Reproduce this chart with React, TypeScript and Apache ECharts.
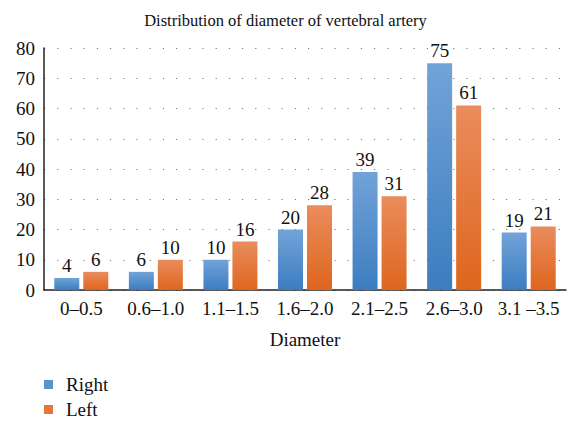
import React, { useEffect, useRef } from "react";
import * as echarts from "echarts";

const categories = ["0–0.5", "0.6–1.0", "1.1–1.5", "1.6–2.0", "2.1–2.5", "2.6–3.0", "3.1 –3.5"];
const rightValues = [4, 6, 10, 20, 39, 75, 19];
const leftValues = [6, 10, 16, 28, 31, 61, 21];
const yTicks = { min: 0, max: 80, interval: 10 };

const FONT = "'Liberation Serif', 'DejaVu Serif', serif";

export default function App() {
  const ref = useRef<HTMLDivElement>(null);
  useEffect(() => {
    if (!ref.current) return;
    const chart = echarts.init(ref.current, null, { renderer: "svg" });
    const blue = new echarts.graphic.LinearGradient(0, 0, 0, 1, [
      { offset: 0, color: "#72a3d8" },
      { offset: 1, color: "#3c7dc0" },
    ]);
    const orange = new echarts.graphic.LinearGradient(0, 0, 0, 1, [
      { offset: 0, color: "#ea8c5c" },
      { offset: 1, color: "#de661e" },
    ]);
    const legendText = { fontFamily: FONT, fontSize: 19, color: "#111", padding: [0, 0, 0, 8] };
    chart.setOption({
      animation: false,
      textStyle: { fontFamily: FONT },
      title: {
        text: "Distribution of diameter of vertebral artery",
        left: "center",
        top: 7,
        textStyle: { fontFamily: FONT, fontSize: 16.5, fontWeight: "normal", color: "#111" },
      },
      legend: [
        {
          left: 44,
          top: 375,
          padding: 0,
          itemWidth: 9,
          itemHeight: 9,
          textStyle: legendText,
          data: [{ name: "Right", icon: "rect", itemStyle: { color: "#5b93cf" } }],
        },
        {
          left: 44,
          top: 400,
          padding: 0,
          itemWidth: 9,
          itemHeight: 9,
          textStyle: legendText,
          data: [{ name: "Left", icon: "rect", itemStyle: { color: "#e5773a" } }],
        },
      ],
      grid: { left: 44, right: 5, top: 48, bottom: 131, containLabel: false },
      xAxis: {
        type: "category",
        data: categories,
        name: "Diameter",
        nameLocation: "middle",
        nameGap: 40,
        nameTextStyle: { fontFamily: FONT, fontSize: 19, color: "#111" },
        axisLine: { show: true, lineStyle: { color: "#222", width: 1.5 } },
        axisTick: { show: false },
        axisLabel: { fontFamily: FONT, fontSize: 19, color: "#111", margin: 9, interval: 0 },
      },
      yAxis: {
        type: "value",
        min: yTicks.min,
        max: yTicks.max,
        interval: yTicks.interval,
        axisLine: { show: true, lineStyle: { color: "#222", width: 1.5 } },
        axisTick: { show: false },
        axisLabel: { fontFamily: FONT, fontSize: 19, color: "#111", margin: 9 },
        splitLine: { show: true, lineStyle: { color: "#777", width: 1.2, type: [1.2, 12] } },
      },
      series: [
        {
          name: "Right",
          type: "bar",
          data: rightValues,
          barWidth: 25,
          barGap: "16%",
          itemStyle: { color: blue },
          label: { show: true, position: "top", fontFamily: FONT, fontSize: 19, color: "#111", distance: 3 },
        },
        {
          name: "Left",
          type: "bar",
          data: leftValues,
          barWidth: 25,
          itemStyle: { color: orange },
          label: { show: true, position: "top", fontFamily: FONT, fontSize: 19, color: "#111", distance: 3 },
        },
      ],
    });
    return () => chart.dispose();
  }, []);
  return <div ref={ref} style={{ width: 571, height: 421, position: "absolute", left: 0, top: 0 }} />;
}
